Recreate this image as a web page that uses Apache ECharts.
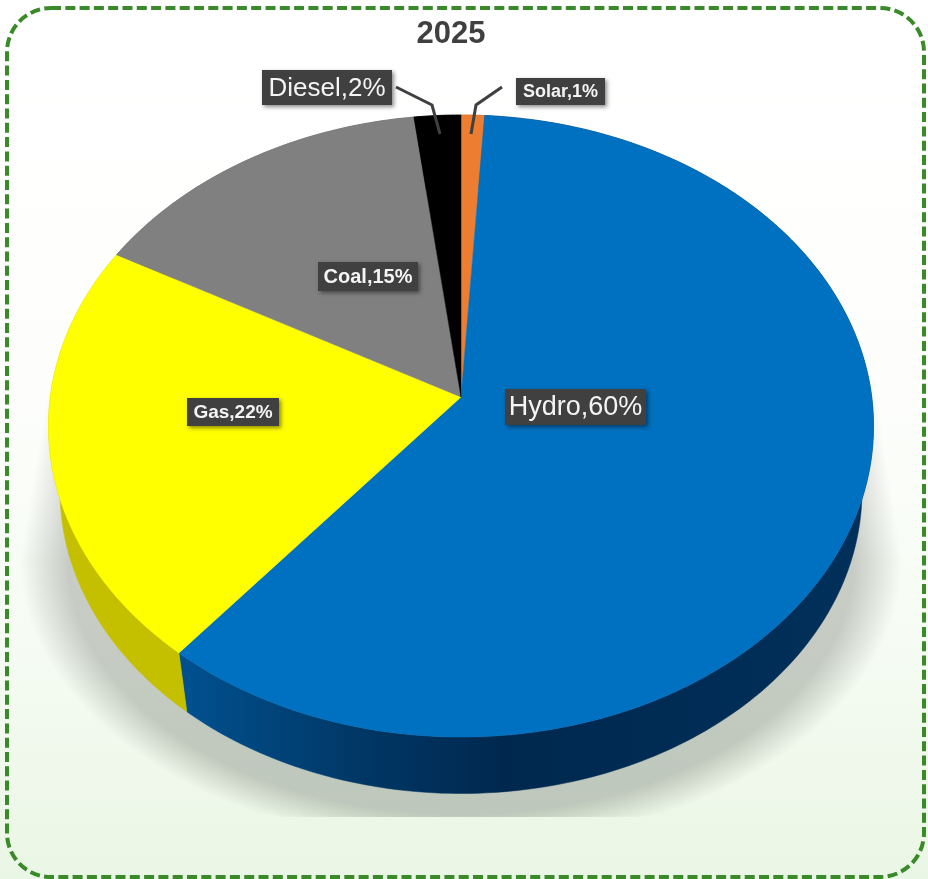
<!DOCTYPE html>
<html>
<head>
<meta charset="utf-8">
<title>2025</title>
<style>
html,body{margin:0;padding:0;background:#fff}
#chart{width:928px;height:879px}
</style>
<script src="https://cdn.jsdelivr.net/npm/echarts@6/dist/echarts.min.js"></script>
</head>
<body>
<div id="chart"></div>
<script>
// Generation mix, listed clockwise from twelve o'clock
const chartTitle = '2025';
const categories = ['Solar', 'Hydro', 'Gas', 'Coal', 'Diesel'];
const shares = [1, 60, 22, 15, 2];

const topColors = ['#ed7d31', '#0070c0', '#ffff00', '#808080', '#000000'];
const wallColors = ['#a85520', null, '#c4c000', '#5a5a5a', '#000000'];

// Label box geometry: [left, top, right, bottom, font size, font weight]
const labelBoxes = {
  Solar: [516, 78, 605, 105, 18, 'bold'],
  Hydro: [505, 389, 646, 425, 27, 'normal'],
  Gas: [187, 398, 279, 426, 19, 'bold'],
  Coal: [318, 262, 418, 291, 20, 'bold'],
  Diesel: [262, 70, 392, 105, 26, 'normal']
};
const leaderLines = {
  Solar: [[502, 87], [476, 105], [471, 134]],
  Diesel: [[396, 87], [432, 105], [440, 134]]
};

// Tilted disc: a circle seen through a perspective with the apex off-centre
const disc = { cx: 461, cy: 397, kx: 410.7, ky: 308.3, p: -0.0933 };
const base = { cy: 463, scale: 0.972 };

function project(deg, r, cy, scale) {
  const a = deg * Math.PI / 180;
  const u = r * Math.sin(a), v = -r * Math.cos(a);
  const d = 1 + disc.p * v;
  return [disc.cx + scale * disc.kx * u / d, cy + scale * disc.ky * v / d];
}
function rim(from, to, cy, scale) {
  const pts = [];
  const n = Math.max(2, Math.ceil(Math.abs(to - from)));
  for (let i = 0; i <= n; i++) pts.push(project(from + (to - from) * i / n, 1, cy, scale));
  return pts;
}
const total = shares.reduce((s, v) => s + v, 0);
function sliceAngles(index, api) {
  let before = 0;
  for (let i = 0; i < index; i++) before += shares[i];
  return [before / total * 360, (before + api.value(0)) / total * 360];
}

const hydroWall = new echarts.graphic.LinearGradient(187, 0, 860, 0, [
  { offset: 0, color: '#00508f' },
  { offset: 0.25, color: '#003866' },
  { offset: 0.47, color: '#00284f' },
  { offset: 1, color: '#00305a' }
], true);

function renderWall(params, api) {
  const [a0, a1] = sliceAngles(params.dataIndex, api);
  const points = rim(a0, a1, disc.cy, 1).concat(rim(a1, a0, base.cy, base.scale));
  const fill = wallColors[params.dataIndex] || hydroWall;
  return { type: 'polygon', shape: { points }, style: { fill, stroke: fill, lineWidth: 0.5 } };
}
function renderTop(params, api) {
  const [a0, a1] = sliceAngles(params.dataIndex, api);
  const fill = topColors[params.dataIndex];
  const points = [[disc.cx, disc.cy]].concat(rim(a0, a1, disc.cy, 1));
  return { type: 'polygon', shape: { points }, style: { fill, stroke: fill, lineWidth: 0.5 } };
}
function renderLabel(params, api) {
  const name = categories[params.dataIndex];
  const [l, t, r, b, size, weight] = labelBoxes[name];
  const children = [];
  if (leaderLines[name]) {
    children.push({
      type: 'polyline',
      shape: { points: leaderLines[name] },
      style: { fill: null, stroke: '#404040', lineWidth: 3 }
    });
  }
  children.push({
    type: 'rect',
    shape: { x: l, y: t, width: r - l, height: b - t },
    style: { fill: '#404040', shadowColor: 'rgba(0,0,0,0.45)', shadowBlur: 4, shadowOffsetX: 2, shadowOffsetY: 2 }
  });
  children.push({
    type: 'text',
    style: {
      x: (l + r) / 2, y: (t + b) / 2 + 1,
      text: name + ',' + api.value(0) + '%',
      fill: '#f4f4f4',
      font: weight + ' ' + size + 'px "Liberation Sans", sans-serif',
      textAlign: 'center', textVerticalAlign: 'middle'
    }
  });
  return { type: 'group', children };
}

// Soft ground shadow, built from nested translucent outlines and cut off flat at the bottom
function shadowLayers() {
  const layers = [];
  const count = 24, floor = 817, midY = 560;
  for (let k = 0; k < count; k++) {
    const t = k / (count - 1);
    const rx = 440 - 46 * t, ry = 285 - 30 * t;
    const pts = [[50 + 40 * t, 380 + 30 * t]];
    for (let d = 180; d >= 0; d -= 3) {
      const a = d * Math.PI / 180;
      pts.push([461 + rx * Math.cos(a), Math.min(floor, midY + ry * Math.sin(a))]);
    }
    pts.push([874 - 40 * t, 380 + 30 * t]);
    layers.push({
      type: 'polygon', z: 1, silent: true,
      shape: { points: pts.reverse() },
      style: { fill: 'rgba(112,96,100,0.015)' }
    });
  }
  return layers;
}

const sliceData = shares.map((v, i) => ({ name: categories[i], value: [v] }));

const chart = echarts.init(document.getElementById('chart'), null, { renderer: 'canvas' });
chart.setOption({
  animation: false,
  backgroundColor: new echarts.graphic.LinearGradient(0, 0, 0, 1, [
    { offset: 0, color: '#ffffff' },
    { offset: 0.45, color: '#fdfefc' },
    { offset: 0.75, color: '#f5fbf2' },
    { offset: 1, color: '#eaf6e5' }
  ]),
  title: {
    text: chartTitle,
    left: 446, top: 14,
    textAlign: 'center',
    textStyle: { color: '#404040', fontSize: 31, fontWeight: 'bold', fontFamily: '"Liberation Sans", sans-serif' }
  },
  graphic: {
    elements: shadowLayers().concat([{
      type: 'rect', z: 1, silent: true,
      shape: { x: 7, y: 8, width: 917, height: 869, r: 44 },
      style: { fill: null, stroke: '#3a8a2a', lineWidth: 4, lineDash: [10, 4.3] }
    }])
  },
  series: [
    { type: 'custom', name: 'side', coordinateSystem: 'none', z: 3, silent: true, renderItem: renderWall, data: sliceData, clip: false },
    { type: 'custom', name: 'top', coordinateSystem: 'none', z: 4, silent: true, renderItem: renderTop, data: sliceData, clip: false },
    { type: 'custom', name: 'labels', coordinateSystem: 'none', z: 5, silent: true, renderItem: renderLabel, data: sliceData, clip: false }
  ]
});
</script>
</body>
</html>
